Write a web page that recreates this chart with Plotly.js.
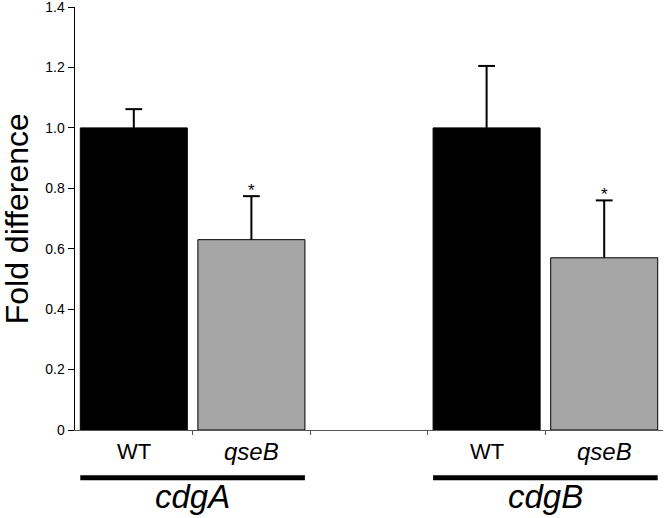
<!DOCTYPE html>
<html>
<head>
<meta charset="utf-8">
<script src="https://cdn.plot.ly/plotly-3.0.1.min.js"></script>
<style>html,body{margin:0;padding:0;background:#fff;}#chart{width:666px;height:518px;}</style>
</head>
<body>
<div id="chart"></div>
<script>
// ---- data ----
const groups = ['cdgA', 'cdgB'];
const strains = ['WT', 'qseB'];
const wtValues = [1.0, 1.0];
const wtErrors = [0.062, 0.205];
const qseBValues = [0.63, 0.57];
const qseBErrors = [0.144, 0.19];
const qseBSignif = ['*', '*'];
const yTickVals = [0, 0.2, 0.4, 0.6, 0.8, 1.0, 1.2, 1.4];
const yTickText = ['0', '0.2', '0.4', '0.6', '0.8', '1.0', '1.2', '1.4'];
const yTitle = 'Fold difference';

// ---- layout helpers ----
const slot = 3; // each group occupies 2 bars + 1 gap slot
const wtX = groups.map((g, i) => i * slot);
const qX = groups.map((g, i) => i * slot + 1);
const barW = 0.91;
const font = 'Liberation Sans, Arial, Helvetica, sans-serif';

function barTrace(x, y, err, color) {
  return {
    type: 'bar', x: x, y: y, width: barW,
    marker: {color: color, line: {color: '#000000', width: 1}},
    error_y: {type: 'data', array: err, arrayminus: err.map(() => 0),
      symmetric: false, color: '#000000', thickness: 2, width: 0},
    hoverinfo: 'none', showlegend: false
  };
}
function capTrace(x, y, err) {
  return {
    type: 'scatter', mode: 'markers', x: x, y: y.map((v, i) => v + err[i]),
    marker: {symbol: 'line-ew', size: 12, line: {color: '#000', width: 2}},
    hoverinfo: 'none', showlegend: false, cliponaxis: false
  };
}

const traces = [
  barTrace(wtX, wtValues, wtErrors, '#000000'),
  barTrace(qX, qseBValues, qseBErrors, '#a6a6a6'),
  capTrace(wtX, wtValues, wtErrors),
  capTrace(qX, qseBValues, qseBErrors)
];

const annotations = [];
const shapes = [];
groups.forEach((g, i) => {
  annotations.push({x: wtX[i], y: -0.05, xref: 'x', yref: 'paper', text: strains[0],
    showarrow: false, yanchor: 'middle', font: {family: font, size: 22, color: '#000'}});
  annotations.push({x: qX[i], y: -0.05, xref: 'x', yref: 'paper', text: '<i>' + strains[1] + '</i>',
    showarrow: false, yanchor: 'middle', font: {family: font, size: 24, color: '#000'}});
  annotations.push({x: (wtX[i] + qX[i]) / 2, y: -0.158, xref: 'x', yref: 'paper', text: '<i>' + g + '</i>',
    showarrow: false, yanchor: 'middle', font: {family: font, size: 33, color: '#000'}});
  shapes.push({type: 'line', xref: 'x', yref: 'paper', x0: wtX[i] - barW / 2, x1: qX[i] + barW / 2,
    y0: -0.113, y1: -0.113, line: {color: '#000', width: 5}});
  annotations.push({x: qX[i], y: qseBValues[i] + qseBErrors[i], xref: 'x', yref: 'y', text: qseBSignif[i],
    showarrow: false, yanchor: 'bottom', yshift: -6, font: {family: font, size: 17, color: '#000'}});
});
annotations.push({x: -0.099, y: 0.5, xref: 'paper', yref: 'paper', text: yTitle, textangle: -90,
  showarrow: false, xanchor: 'center', yanchor: 'middle', font: {family: font, size: 32, color: '#000'}});

const layout = {
  width: 666, height: 518,
  margin: {l: 75, r: 3, t: 7, b: 88},
  paper_bgcolor: '#fff', plot_bgcolor: '#fff',
  bargap: 0.09,
  xaxis: {
    range: [-0.5, 4.5], tickvals: [0.5, 1.5, 2.5, 3.5], ticks: 'outside', ticklen: 4,
    tickcolor: '#555', showticklabels: false, showgrid: false, zeroline: false,
    showline: true, linecolor: '#555', linewidth: 1, fixedrange: true
  },
  yaxis: {
    range: [0, 1.4001], tickvals: yTickVals, ticktext: yTickText, ticks: 'outside', ticklen: 6,
    tickcolor: '#000', tickwidth: 1, showgrid: false, zeroline: false,
    showline: true, linecolor: '#000', linewidth: 1.5,
    tickfont: {family: font, size: 14, color: '#000'},
    ticklabeloverflow: 'allow',
    automargin: false,
    fixedrange: true
  },
  annotations: annotations,
  shapes: shapes,
  font: {family: font, color: '#000'}
};

Plotly.newPlot('chart', traces, layout, {displayModeBar: false, staticPlot: true});
</script>
</body>
</html>
